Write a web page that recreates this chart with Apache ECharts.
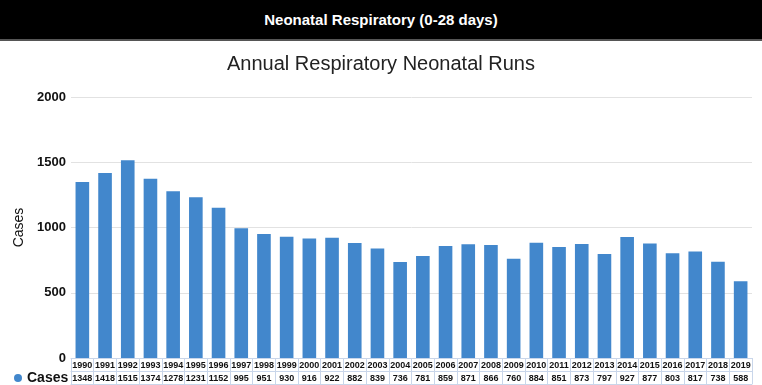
<!DOCTYPE html>
<html>
<head>
<meta charset="utf-8">
<script src="https://cdn.jsdelivr.net/npm/echarts@6/dist/echarts.min.js"></script>
<style>
  html, body { margin: 0; padding: 0; background: #fff; overflow: hidden; }
  .header {
    font: bold 15px "Liberation Sans", Arial, sans-serif;
    height: 39px; line-height: 39px; background: #000; color: #fff;
    text-align: center;
    border-bottom: 2px solid #555;
  }
  #chart { width: 762px; height: 344px; }
</style>
</head>
<body>
<div class="header">Neonatal Respiratory (0-28 days)</div>
<div id="chart"></div>
<script>
  var years = ['1990','1991','1992','1993','1994','1995','1996','1997','1998','1999',
    '2000','2001','2002','2003','2004','2005','2006','2007','2008','2009',
    '2010','2011','2012','2013','2014','2015','2016','2017','2018','2019'];
  var cases = [1348,1418,1515,1374,1278,1231,1152,995,951,930,
    916,922,882,839,736,781,859,871,866,760,
    884,851,873,797,927,877,803,817,738,588];
  var yTicks = [0, 500, 1000, 1500, 2000];

  var font = '"Liberation Sans", Arial, sans-serif';
  var tableLine = '#c9d6ea';
  var mychart = echarts.init(document.getElementById('chart'));

  var option = {
    title: {
      text: 'Annual Respiratory Neonatal Runs',
      left: 'center',
      top: 8,
      textStyle: { color: '#222', fontFamily: font, fontWeight: 'normal', fontSize: 20 }
    },
    legend: {
      data: ['Cases'],
      left: 14,
      top: 330,
      padding: 0,
      icon: 'circle',
      itemWidth: 8,
      itemHeight: 8,
      itemGap: 4,
      textStyle: { color: '#111', fontFamily: font, fontWeight: 'bold', fontSize: 14 }
    },
    grid: { left: 71, right: 10, top: 56, bottom: 27 },
    xAxis: [
      {
        type: 'category',
        data: years,
        axisLine: { show: true, lineStyle: { color: tableLine } },
        axisTick: { show: true, length: 26, interval: 0, lineStyle: { color: tableLine } },
        axisLabel: { interval: 0, margin: 3, color: '#111', fontFamily: font, fontWeight: 'bold', fontSize: 9 }
      },
      {
        type: 'category',
        data: cases.map(String),
        position: 'bottom',
        offset: 13,
        axisLine: { show: true, lineStyle: { color: tableLine } },
        axisTick: { show: false },
        axisLabel: { interval: 0, margin: 3, color: '#111', fontFamily: font, fontWeight: 'bold', fontSize: 9 }
      },
      {
        type: 'category',
        data: years,
        position: 'bottom',
        offset: 26,
        axisLine: { show: true, lineStyle: { color: tableLine } },
        axisTick: { show: false },
        axisLabel: { show: false }
      }
    ],
    yAxis: {
      type: 'value',
      min: yTicks[0],
      max: yTicks[yTicks.length - 1],
      interval: 500,
      name: 'Cases',
      nameLocation: 'middle',
      nameGap: 44,
      nameTextStyle: { color: '#111', fontFamily: font, fontSize: 14 },
      axisLine: { show: false },
      axisTick: { show: false },
      axisLabel: {
        color: '#111', fontFamily: font, fontWeight: 'bold', fontSize: 13, margin: 5,
        formatter: function (v) { return String(v); }
      },
      splitLine: { lineStyle: { color: '#e2e2e2' } }
    },
    series: [
      {
        name: 'Cases',
        type: 'bar',
        data: cases,
        barWidth: '60%',
        itemStyle: { color: '#4287cc' }
      }
    ]
  };
  mychart.setOption(option);
</script>
</body>
</html>
